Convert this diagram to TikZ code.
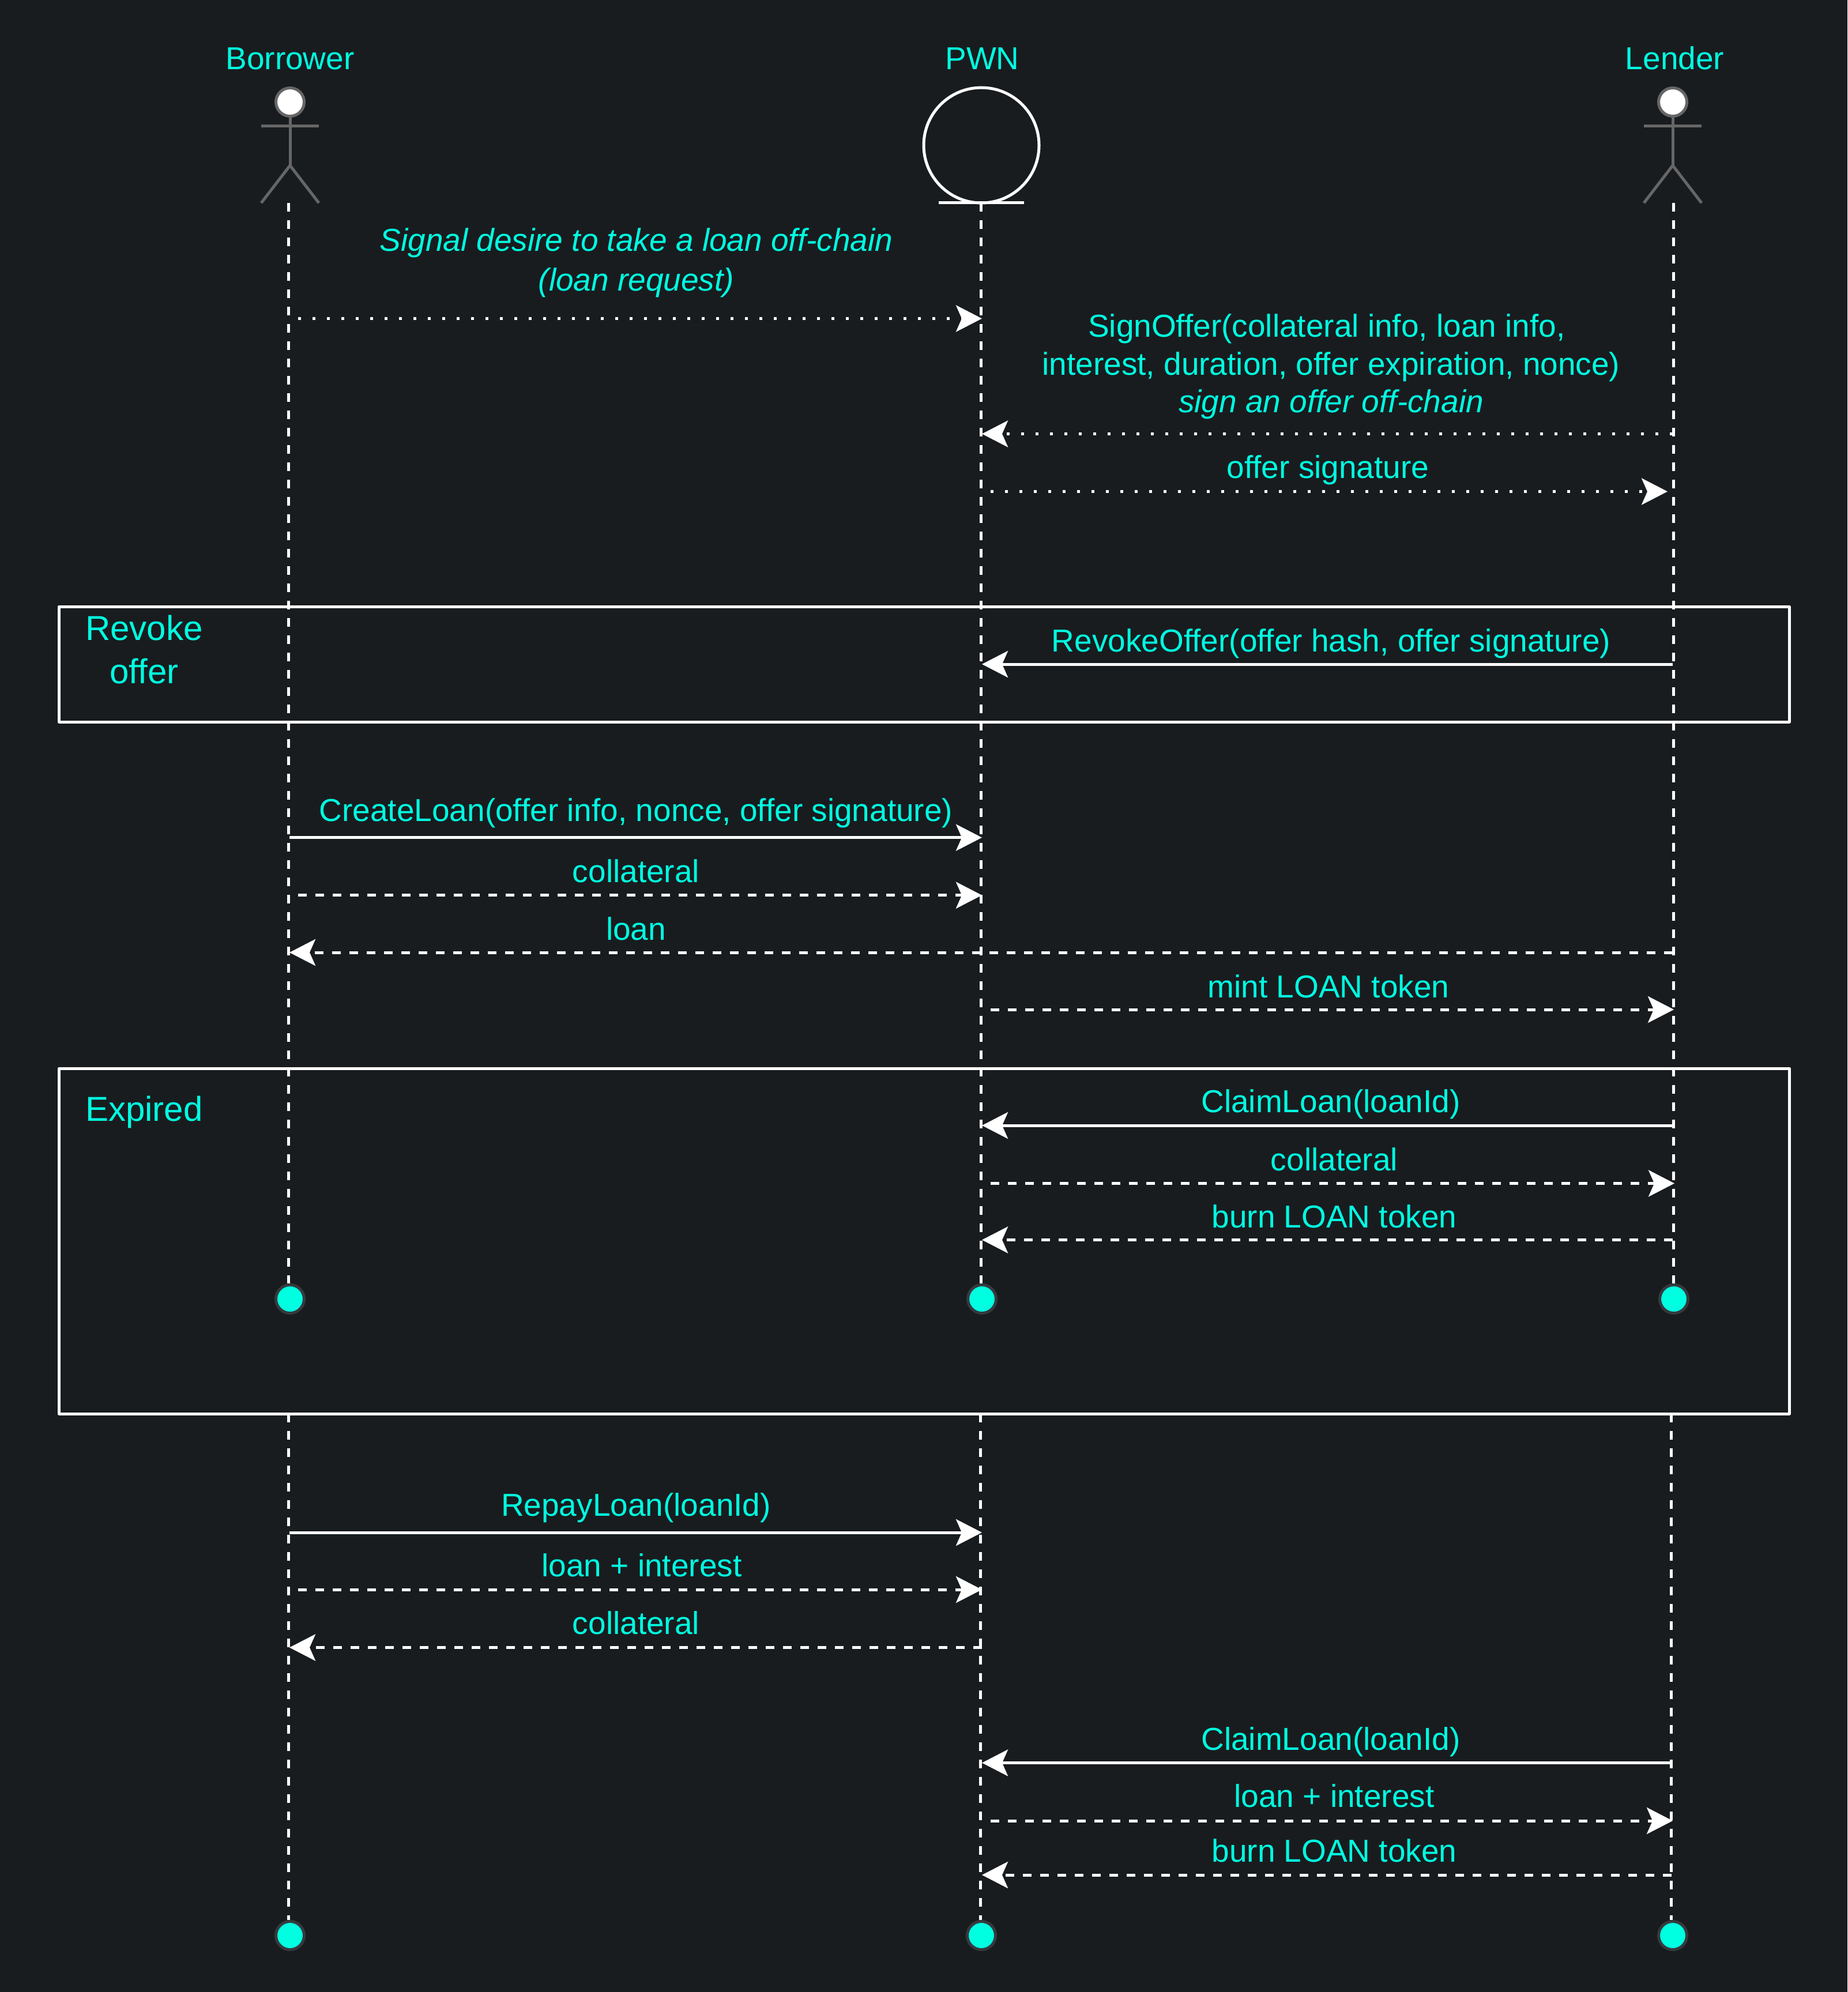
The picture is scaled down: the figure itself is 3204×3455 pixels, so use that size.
\documentclass[tikz,border=0pt]{standalone}
\usepackage{fontspec}
\setmainfont{Liberation Sans}
\usetikzlibrary{arrows.meta}
\definecolor{bgdark}{RGB}{24,28,31}
\definecolor{tealtext}{RGB}{0,255,225}
\definecolor{stickgray}{RGB}{102,102,102}
\definecolor{dotrim}{RGB}{54,57,61}
\tikzset{
	msg/.style={text=tealtext, anchor=base, inner sep=0pt, font=\fontsize{13.75}{16.4}\selectfont},
	framelabel/.style={text=tealtext, anchor=base, inner sep=0pt, font=\fontsize{15}{18.75}\selectfont},
	lifeline/.style={white, line width=1.25pt, dash pattern=on 3.75pt off 3.75pt},
	solidmsg/.style={white, line width=1.25pt, -{Stealth[length=11.25pt,width=11.5pt,inset=2.5pt]}},
	dashmsg/.style={solidmsg, dash pattern=on 3.75pt off 3.75pt, dash phase=3.75pt},
	dotmsg/.style={solidmsg, dash pattern=on 1.25pt off 5pt, dash phase=2.5pt},
	backmsg/.style={dash phase=0pt},
	stick/.style={stickgray, line width=1.25pt},
	headnode/.style={circle, draw=stickgray, fill=white, line width=1.25pt, minimum size=12.25pt, inner sep=0pt, outer sep=0pt},
	enddot/.style={circle, draw=dotrim, fill=tealtext, line width=1.25pt, minimum size=12.25pt, inner sep=0pt},
	framebox/.style={white, line width=1.25pt}
}
\begin{document}
\begin{tikzpicture}[x=0.25pt, y=-0.25pt, line join=round]
	\fill[bgdark] (0,0) rectangle (3204,3455);
	\useasboundingbox (0,0) rectangle (3204,3455);

	\path
	(500,352) coordinate (Bt)
	(1701,352) coordinate (Pt)
	(2902,352) coordinate (Lt)
	(500,2452) coordinate (Bs)
	(1700,2452) coordinate (Ps)
	(2898,2452) coordinate (Ls)
	;

	\foreach \p/\x/\y in {Bd/503/2253,Pd/1703/2253,Ld/2903/2253,Be/503/3357,Pe/1702/3357,Le/2901/3357}
	\node[enddot] (\p) at (\x,\y) {};

	\foreach \p in {B,P,L}{
		\draw[lifeline] (\p t) -- (\p t |- \p d.north);
		\draw[lifeline] (\p s) -- (\p s |- \p e.north);
	}

	\foreach \p/\x in {B/503,L/2901}{
		\node[headnode] (head\p) at (\x,177) {};
		\draw[stick] (head\p.south) -- (\x,287) coordinate (hip\p);
		\draw[stick] (\x-50,219) -- (\x+50,219);
		\draw[stick] (\x-50,352) -- (hip\p) -- (\x+50,352);
	}
	\node[circle, draw=white, line width=1.25pt, minimum size=50pt, inner sep=0pt, outer sep=0pt] (pwn) at (1702,252) {};
	\draw[white, line width=1.25pt] ([xshift=-18.5pt]pwn.south) -- ([xshift=18.5pt]pwn.south);

	\foreach \n/\x/\t in {tB/503/Borrower,tP/1703.5/PWN,tL/2904.5/Lender}
	\node[msg] (\n) at (\x,120.5) {\t};

	\draw[framebox] (102.5,1052) rectangle (3103,1252);
	\draw[framebox] (102.5,1853) rectangle (3103,2452);
	\node[framelabel, anchor=center, align=center] (frev) at (250,1127) {Revoke\\offer};
	\node[framelabel] (fexp) at (250,1944) {Expired};

	\foreach \n/\y/\l in {a/552.5/2901,b/752.5/2901,c/852.5/2892,d/1152/2901,e/1452.7/2901,f/1552.7/2901,g/1652/2901,h/1751/2903,i/1952/2901,j/2052.5/2904,k/2150.5/2901,l/2658/2899,m/2757/2899,n/2857.5/2899,o/3057.5/2899,p/3158/2901,q/3252/2899}
	\path (502,\y) coordinate (B\n) (1703,\y) coordinate (P\n) (\l,\y) coordinate (L\n);

	\draw[dotmsg] (Ba) -- (Pa);
	\draw[dotmsg, backmsg] (Lb) -- (Pb);
	\draw[dotmsg] (Pc) -- (Lc);
	\draw[solidmsg] (Ld) -- (Pd);
	\draw[solidmsg] (Be) -- (Pe);
	\draw[dashmsg] (Bf) -- (Pf);
	\draw[dashmsg, backmsg] (Lg) -- (Bg);
	\draw[dashmsg] (Ph) -- (Lh);
	\draw[solidmsg] (Li) -- (Pi);
	\draw[dashmsg] (Pj) -- (Lj);
	\draw[dashmsg, backmsg] (Lk) -- (Pk);
	\draw[solidmsg] (Bl) -- (Pl);
	\draw[dashmsg] (Bm) -- (Pm);
	\draw[dashmsg, backmsg] (Pn) -- (Bn);
	\draw[solidmsg] (Lo) -- (Po);
	\draw[dashmsg] (Pp) -- (Lp);
	\draw[dashmsg, backmsg] (Lq) -- (Pq);

	\node[msg, anchor=center, align=center, font=\fontsize{13.75}{17.35}\selectfont] (la) at (1103.5,456) {\itshape Signal desire to take a loan off-chain\\\itshape (loan request)};
	\node[msg, anchor=center, align=center] (lb) at (2308.5,636) {SignOffer(collateral info, loan info,\hspace*{0.278em}\\interest, duration, offer expiration, nonce)\\\itshape sign an offer off-chain};

	\foreach \n/\x/\y/\t in {
		lc/2303/829/offer signature,
		ld/2308.5/1130/{RevokeOffer(offer hash, offer signature)},
		le/1103/1424/{CreateLoan(offer info, nonce, offer signature)},
		lf/1103/1530/collateral,
		lg/1103/1630/loan,
		lh/2304/1730/mint LOAN token,
		li/2308/1929/ClaimLoan(loanId),
		lj/2314/2030/collateral,
		lk/2314/2129/burn LOAN token,
		ll/1103/2629/RepayLoan(loanId),
		lm/1113/2734/loan + interest,
		ln/1103/2834/collateral,
		lo/2308/3035/ClaimLoan(loanId),
		lp/2314/3134/loan + interest,
		lq/2314/3229/burn LOAN token}
	\node[msg] (\n) at (\x,\y) {\t};
\end{tikzpicture}
\end{document}
